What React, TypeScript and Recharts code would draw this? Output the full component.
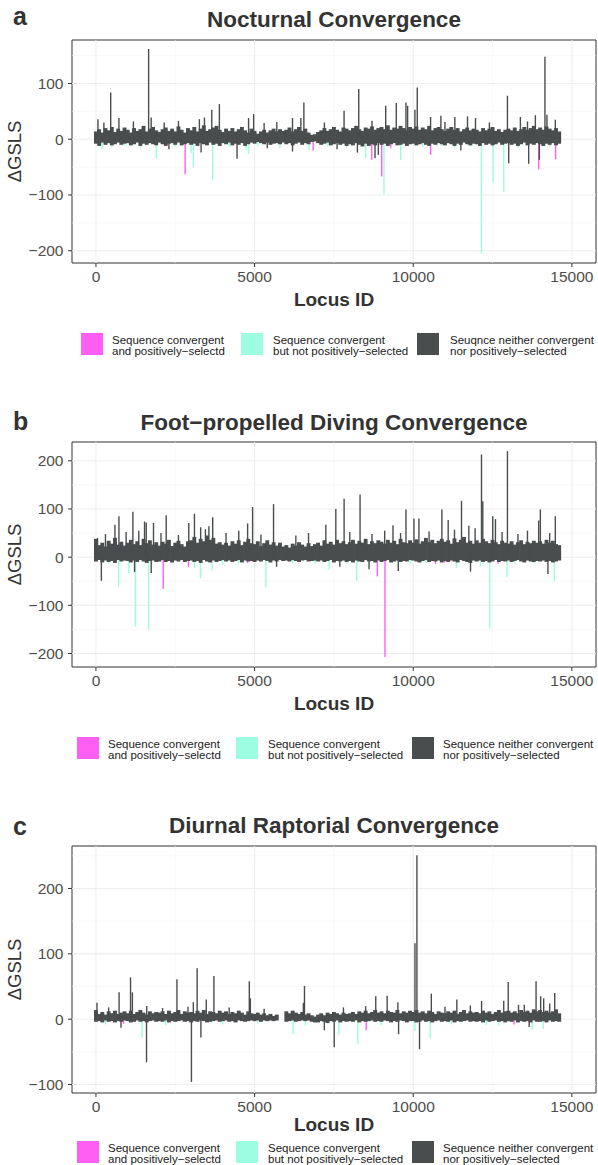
import { ErrorBar, ReferenceArea, ReferenceLine, Scatter, ScatterChart, XAxis, YAxis } from "recharts";

const FONT = "'Liberation Sans', Arial, Helvetica, sans-serif";
const PINK = "#ff5ef3";
const CYAN = "#9cfde0";
const DARK = "#4a4d4e";

// loci on the x axis
const X_DOMAIN = [-755, 15760];
const X_TICKS = [0, 5000, 10000, 15000];
const X_MINOR = [2500, 7500, 12500];
const BAND_STEP = 100; // the dense band is sampled every 100 loci, 0..14600

// ---------- a: Nocturnal ----------
const aBandUp = [
  14, 18, 12, 20, 16, 22, 13, 19, 15, 21, 17, 12, 20, 15, 18, 24, 14, 19, 22, 16,
  13, 18, 21, 15, 19, 14, 23, 17, 12, 20, 16, 22, 14, 19, 25, 15, 18, 21, 24, 17,
  13, 19, 15, 20, 14, 18, 22, 16, 12, 19, 15, 10, 14, 17, 12, 16, 19, 14, 18, 15,
  17, 21, 14, 18, 22, 15, 19, 12, 8, 9, 13, 16, 20, 15, 18, 22, 17, 14, 21, 19,
  16, 20, 24, 18, 15, 21, 19, 23, 17, 20, 22, 18, 25, 17, 21, 19, 24, 20, 16, 22,
  19, 23, 17, 21, 18, 24, 16, 20, 22, 18, 15, 19, 22, 17, 20, 14, 18, 21, 16, 19,
  17, 14, 20, 16, 19, 22, 15, 18, 13, 17, 19, 16, 21, 15, 18, 22, 17, 20, 24, 18,
  21, 17, 23, 19, 16, 20, 14,
];
const aBandDown = [
  8, 12, 6, 10, 7, 11, 9, 6, 10, 8, 7, 11, 9, 6, 12, 8, 10, 7, 9, 11,
  6, 9, 12, 8, 7, 10, 6, 11, 9, 7, 10, 8, 12, 7, 9, 11, 6, 10, 8, 12,
  7, 9, 6, 11, 8, 10, 7, 12, 9, 6, 8, 5, 7, 9, 6, 10, 8, 7, 9, 6,
  9, 7, 11, 8, 6, 10, 7, 9, 5, 4, 7, 10, 8, 6, 11, 9, 7, 10, 8, 12,
  9, 11, 7, 10, 13, 8, 12, 9, 11, 7, 10, 8, 12, 9, 7, 11, 10, 8, 12, 9,
  8, 11, 9, 7, 10, 12, 8, 10, 7, 9, 11, 7, 9, 12, 8, 10, 6, 9, 11, 8,
  9, 12, 7, 10, 8, 11, 9, 6, 10, 8, 7, 10, 8, 12, 9, 6, 11, 8, 10, 7,
  9, 12, 8, 10, 7, 11, 8,
];
const aDarkSpikes = [
  [63, 36], [250, 30], [465, 84], [724, 38], [1180, 32], [1660, 162], [1740, 39], [2150, 30],
  [2600, 33], [3260, 36], [3420, 39], [3650, 53], [3890, 63], [4810, 38], [4970, 45], [5300, 29],
  [5700, 31], [6195, 38], [6458, 38], [6553, 66], [7200, 30], [7820, 51], [8283, 90], [8700, 33],
  [9132, 60], [9465, 65], [9770, 66], [9823, 60], [10053, 53], [10126, 93], [10547, 40], [10871, 42],
  [11000, 31], [11311, 40], [11710, 41], [11962, 38], [12400, 30], [12969, 78], [13377, 40], [13600, 32],
  [13849, 43], [14151, 148], [14214, 44], [14478, 35],
  [2300, -18], [3314, -24], [4447, -35], [5400, -16], [6195, -22], [7600, -18], [8240, -24],
  [8796, -34], [8900, -28], [11500, -20], [13009, -43], [13638, -44], [13975, -37],
];
const aCyanSpikes = [
  [190, -17], [500, -14], [900, -12], [1400, -15], [1900, -34], [2500, -13], [3000, -25], [3072, -50],
  [3680, -73], [4200, -14], [4730, -19], [4811, -26], [5100, -12], [5800, -16], [6720, -20], [7300, -13],
  [7900, -15], [8503, -34], [9078, -98], [9603, -37], [10300, -14], [10900, -12], [11300, -16], [11800, -13],
  [12150, -205], [12516, -79], [12852, -94], [13300, -15], [14300, -14], [14604, -8],
];
const aPinkSpikes = [
  [2811, -63], [6846, -20], [8692, -37], [9006, -67], [9289, -16], [10547, -28], [13953, -54], [14487, -36],
];

// ---------- b: Foot-propelled diving ----------
const bBandUp = [
  38, 25, 30, 22, 34, 28, 40, 26, 32, 24, 30, 36, 27, 33, 25, 38, 29, 35, 26, 31,
  24, 32, 28, 36, 23, 30, 34, 27, 22, 33, 35, 42, 30, 38, 33, 45, 36, 40, 28, 31,
  26, 30, 24, 33, 28, 35, 25, 32, 38, 29, 27, 33, 23, 29, 35, 26, 31, 24, 30, 22,
  25, 20, 28, 24, 31, 26, 22, 29, 23, 27, 30, 24, 35, 28, 32, 26, 36, 29, 33, 27,
  31, 36, 28, 34, 30, 38, 27, 33, 29, 35, 32, 28, 36, 30, 34, 27, 38, 31, 29, 35,
  30, 37, 28, 33, 40, 31, 36, 29, 34, 38, 32, 35, 28, 39, 31, 36, 42, 30, 34, 28,
  35, 30, 38, 33, 29, 36, 31, 27, 34, 30, 28, 33, 26, 31, 35, 27, 32, 29, 34, 30,
  33, 28, 36, 30, 34, 27, 25,
];
const bBandDown = [
  9, 6, 11, 7, 10, 8, 12, 6, 9, 7, 8, 11, 7, 10, 6, 9, 12, 8, 7, 10,
  9, 6, 10, 8, 11, 7, 9, 6, 10, 8, 7, 10, 8, 12, 6, 9, 11, 7, 10, 8,
  6, 9, 7, 10, 8, 6, 11, 7, 9, 8, 10, 7, 9, 6, 8, 11, 7, 9, 6, 8,
  7, 9, 6, 8, 10, 7, 6, 9, 8, 7, 9, 7, 10, 8, 6, 11, 8, 9, 7, 10,
  8, 11, 7, 9, 10, 6, 9, 8, 11, 7, 10, 8, 6, 11, 9, 7, 10, 8, 9, 6,
  7, 9, 11, 8, 6, 10, 8, 9, 7, 11, 8, 10, 7, 9, 11, 6, 8, 10, 12, 7,
  9, 7, 10, 8, 11, 9, 6, 10, 8, 9, 7, 10, 8, 6, 9, 11, 7, 9, 10, 8,
  9, 7, 10, 8, 11, 9, 7,
];
const bDarkSpikes = [
  [50, 40], [300, 48], [598, 67], [724, 85], [950, 52], [1164, 94], [1350, 55], [1531, 74],
  [1585, 72], [1814, 71], [2050, 50], [2214, 87], [2600, 46], [2925, 71], [3104, 90], [3300, 62],
  [3450, 58], [3560, 64], [3680, 83], [4100, 50], [4500, 55], [4780, 70], [4937, 104], [5200, 47],
  [5597, 110], [6300, 45], [6700, 50], [7245, 67], [7560, 100], [7821, 121], [8000, 52], [8324, 130],
  [8700, 48], [9100, 55], [9362, 66], [9600, 50], [9771, 99], [10022, 80], [10179, 80], [10500, 53],
  [10903, 99], [11101, 77], [11300, 57], [11521, 117], [11752, 65], [11950, 60], [12151, 213], [12192, 116],
  [12506, 85], [12591, 79], [12800, 52], [12969, 220], [13300, 48], [13600, 55], [13953, 76], [14006, 99],
  [14300, 50], [14478, 85],
  [170, -49], [1217, -31], [1742, -33], [5692, -20], [7686, -20], [8607, -25], [9528, -29],
  [11805, -30], [14245, -35],
];
const bCyanSpikes = [
  [400, -14], [714, -61], [1038, -33], [1248, -145], [1657, -150], [2400, -12], [3104, -23], [3292, -44],
  [3660, -29], [4000, -15], [4500, -13], [5358, -63], [6200, -12], [6900, -14], [7349, -26], [7900, -13],
  [8220, -49], [9900, -15], [10400, -12], [11365, -22], [12119, -20], [12412, -148], [12956, -41], [13200, -14],
  [13800, -13], [14446, -50],
];
const bPinkSpikes = [
  [2119, -66], [2915, -20], [4780, -12], [8868, -40], [9110, -207], [10704, -14], [10987, -11], [12673, -13],
];

// ---------- c: Diurnal raptorial ----------
const cBandUp = [
  14, 8, 11, 7, 12, 9, 13, 8, 10, 12, 9, 13, 8, 11, 14, 10, 7, 12, 9, 11,
  10, 12, 8, 13, 9, 11, 14, 8, 12, 10, 11, 9, 13, 10, 14, 8, 12, 11, 9, 13,
  10, 12, 8, 11, 9, 13, 10, 7, 12, 9, 8, 10, 7, 9, 6, 8, 5, 7, 0, 0,
  12, 9, 13, 10, 8, 11, 7, 9, 6, 4, 7, 9, 6, 10, 8, 11, 9, 7, 10, 8,
  9, 11, 8, 12, 10, 13, 9, 11, 14, 10, 12, 9, 13, 11, 10, 14, 9, 12, 10, 13,
  11, 14, 10, 12, 9, 13, 11, 8, 12, 10, 9, 12, 10, 13, 8, 11, 14, 9, 12, 10,
  11, 9, 13, 10, 12, 8, 11, 14, 10, 12, 13, 10, 12, 9, 14, 11, 13, 10, 15, 12,
  14, 11, 13, 10, 12, 15, 9,
];
const cBandDown = [
  4, 3, 5, 2, 4, 3, 5, 3, 4, 2, 3, 5, 4, 2, 4, 3, 5, 3, 2, 4,
  3, 4, 2, 5, 3, 4, 3, 2, 4, 3, 5, 3, 4, 2, 3, 5, 4, 3, 2, 4,
  3, 2, 4, 3, 5, 2, 3, 4, 3, 2, 3, 2, 4, 2, 3, 2, 3, 2, 0, 0,
  4, 3, 2, 4, 3, 2, 3, 2, 4, 5, 5, 3, 4, 6, 3, 4, 2, 5, 3, 4,
  3, 4, 2, 5, 3, 4, 3, 2, 4, 3, 4, 2, 3, 5, 3, 4, 2, 3, 5, 3,
  3, 5, 4, 2, 4, 3, 5, 3, 2, 4, 3, 4, 2, 5, 3, 4, 3, 2, 4, 3,
  4, 3, 5, 2, 4, 3, 2, 4, 3, 5, 3, 4, 2, 5, 3, 4, 3, 5, 2, 4,
  4, 3, 5, 2, 4, 3, 4,
];
const cDarkSpikes = [
  [32, 25], [400, 18], [729, 41], [1090, 64], [1148, 41], [1600, 20], [2100, 17], [2553, 61],
  [2900, 19], [3069, 26], [3189, 78], [3477, 30], [3717, 66], [4200, 18], [4833, 58], [4866, 32],
  [5300, 16], [6537, 25], [6572, 51], [7800, 18], [8500, 20], [8818, 35], [9178, 36], [9516, 26],
  [10054, 116], [10116, 251], [10570, 39], [11000, 19], [11374, 30], [11800, 21], [12154, 28], [12852, 28],
  [12994, 57], [13318, 22], [13500, 22], [13871, 58], [14016, 35], [14111, 32], [14300, 24], [14459, 40],
  [789, -13], [1594, -66], [3009, -96], [3308, -28], [7198, -17], [7509, -43], [9538, -23],
  [10198, -46], [13654, -12],
];
const cCyanSpikes = [
  [300, -8], [1450, -28], [2200, -9], [4000, -8], [5100, -7], [6214, -23], [6600, -10], [7654, -24],
  [8254, -38], [9000, -9], [10054, -18], [10534, -30], [11200, -8], [12300, -9], [12700, -10], [13751, -17],
  [14100, -15],
];
const cPinkSpikes = [[871, -7], [8518, -17], [13176, -8]];

const LEGEND_A = [
  ["Sequence convergent", "and positively\u2212selectd"],
  ["Sequence convergent", "but not positively\u2212selected"],
  ["Seuqnce neither convergent", "nor positively\u2212selected"],
];
const LEGEND_BC = [
  ["Sequence convergent", "and positively\u2212selectd"],
  ["Sequence convergent", "but not positively\u2212selected"],
  ["Sequence neither convergent", "nor positively\u2212selected"],
];

const bandRows = (up: number[], down: number[]) =>
  up.map((u, i) => ({ x: i * BAND_STEP, y: 0, err: [down[i], u] }));
const spikeRows = (list: number[][]) =>
  list.map(([x, v]) => ({ x, y: 0, err: v < 0 ? [-v, 0] : [0, v] }));

const PANELS = [
  {
    letter: "a", title: "Nocturnal Convergence",
    up: aBandUp, down: aBandDown, dark: aDarkSpikes, cyan: aCyanSpikes, pink: aPinkSpikes,
    yDomain: [-222, 178], yTicks: [-200, -100, 0, 100], yMinor: [-150, -50, 50, 150],
    plotTop: 40, plotBottom: 263, titleBase: 27, letterBase: 25, xTitleBase: 305.5, legendTop: 333,
    legend: LEGEND_A, keyX: [81, 241, 417], textX: [112, 273, 450],
  },
  {
    letter: "b", title: "Foot\u2212propelled Diving Convergence",
    up: bBandUp, down: bBandDown, dark: bDarkSpikes, cyan: bCyanSpikes, pink: bPinkSpikes,
    yDomain: [-228, 239], yTicks: [-200, -100, 0, 100, 200], yMinor: [-150, -50, 50, 150],
    plotTop: 442, plotBottom: 667, titleBase: 430, letterBase: 430, xTitleBase: 709.5, legendTop: 737,
    legend: LEGEND_BC, keyX: [77, 236, 412], textX: [108, 268, 443],
  },
  {
    letter: "c", title: "Diurnal Raptorial Convergence",
    up: cBandUp, down: cBandDown, dark: cDarkSpikes, cyan: cCyanSpikes, pink: cPinkSpikes,
    yDomain: [-113, 265], yTicks: [-100, 0, 100, 200], yMinor: [-50, 50, 150, 250],
    plotTop: 846, plotBottom: 1093, titleBase: 833, letterBase: 835, xTitleBase: 1131, legendTop: 1141,
    legend: LEGEND_BC, keyX: [77, 236, 412], textX: [108, 268, 443],
  },
];

const noDot = () => <g />;
const minus = (v: number) => String(v).replace("-", "\u2212");

function Panel({ p }: { p: (typeof PANELS)[number] }) {
  const h = p.plotBottom - p.plotTop + 10 + 24;
  const tick = { fill: "#4d4d4d", fontSize: 15.5, fontFamily: FONT };
  return (
    <div style={{ position: "absolute", left: 0, top: p.plotTop - 10 }}>
      <ScatterChart width={598} height={h} margin={{ top: 10, right: 2, bottom: 0, left: 0 }}>
        <XAxis
          type="number" dataKey="x" domain={X_DOMAIN} ticks={X_TICKS} interval={0} allowDataOverflow
          height={24} tickSize={4} tickMargin={4} axisLine={false} tickLine={{ stroke: "#333" }} tick={tick}
        />
        <YAxis
          type="number" dataKey="y" domain={p.yDomain} ticks={p.yTicks} interval={0} allowDataOverflow
          width={72} tickSize={4} tickMargin={4.5} axisLine={false} tickLine={{ stroke: "#333" }} tick={tick}
          tickFormatter={minus}
        />
        {X_MINOR.map((v) => <ReferenceLine key={"xm" + v} x={v} stroke="#f5f5f5" strokeWidth={0.6} />)}
        {p.yMinor.map((v) => <ReferenceLine key={"ym" + v} y={v} stroke="#f5f5f5" strokeWidth={0.6} />)}
        {X_TICKS.map((v) => <ReferenceLine key={"x" + v} x={v} stroke="#ededed" strokeWidth={1} />)}
        {p.yTicks.map((v) => <ReferenceLine key={"y" + v} y={v} stroke="#ededed" strokeWidth={1} />)}
        <Scatter data={spikeRows(p.cyan)} shape={noDot} isAnimationActive={false}>
          <ErrorBar dataKey="err" direction="y" width={0} stroke={CYAN} strokeWidth={1.4} isAnimationActive={false} />
        </Scatter>
        <Scatter data={spikeRows(p.pink)} shape={noDot} isAnimationActive={false}>
          <ErrorBar dataKey="err" direction="y" width={0} stroke={PINK} strokeWidth={1.4} isAnimationActive={false} />
        </Scatter>
        <Scatter data={bandRows(p.up, p.down)} shape={noDot} isAnimationActive={false}>
          <ErrorBar dataKey="err" direction="y" width={0} stroke={DARK} strokeWidth={3.9} isAnimationActive={false} />
        </Scatter>
        <Scatter data={spikeRows(p.dark)} shape={noDot} isAnimationActive={false}>
          <ErrorBar dataKey="err" direction="y" width={0} stroke={DARK} strokeWidth={1.4} isAnimationActive={false} />
        </Scatter>
        <ReferenceArea
          x1={X_DOMAIN[0]} x2={X_DOMAIN[1]} y1={p.yDomain[0]} y2={p.yDomain[1]}
          fill="none" stroke="#333" strokeWidth={1}
        />
      </ScatterChart>
    </div>
  );
}

function Texts({ p }: { p: (typeof PANELS)[number] }) {
  const colors = [PINK, CYAN, DARK];
  const mid = (p.plotTop + p.plotBottom) / 2;
  return (
    <g fontFamily={FONT}>
      <text x={13} y={p.letterBase} fontSize={25} fontWeight="bold" fill="#333">{p.letter}</text>
      <text x={334} y={p.titleBase} fontSize={22.5} fontWeight="bold" fill="#333" textAnchor="middle">{p.title}</text>
      <text x={334} y={p.xTitleBase} fontSize={19} fontWeight="bold" fill="#333" textAnchor="middle">Locus ID</text>
      <text x={21} y={mid} fontSize={18.5} fill="#333" textAnchor="middle" transform={`rotate(-90 21 ${mid})`}>
        {"\u0394GSLS"}
      </text>
      {p.legend.map((lines, i) => (
        <g key={i}>
          <rect x={p.keyX[i]} y={p.legendTop} width={22} height={22} fill={colors[i]} />
          <text x={p.textX[i]} y={p.legendTop + 10.5} fontSize={11.5} fill="#222">{lines[0]}</text>
          <text x={p.textX[i]} y={p.legendTop + 22} fontSize={11.5} fill="#222">{lines[1]}</text>
        </g>
      ))}
    </g>
  );
}

export default function App() {
  return (
    <div style={{ position: "absolute", left: 0, top: 0, width: 598, height: 1165, background: "#fff" }}>
      {PANELS.map((p) => <Panel key={p.letter} p={p} />)}
      <svg width={598} height={1165} style={{ position: "absolute", left: 0, top: 0, pointerEvents: "none" }}>
        {PANELS.map((p) => <Texts key={p.letter} p={p} />)}
      </svg>
    </div>
  );
}
